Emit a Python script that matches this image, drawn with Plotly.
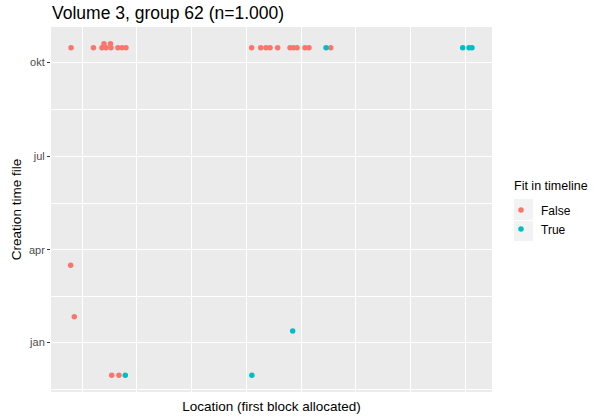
import plotly.graph_objects as go

# ---- data (location in arbitrary block units, creation date) ----
false_loc = [0.397, 0.602, 0.680, 0.698, 0.717, 0.758, 0.762, 0.826, 0.863, 0.899,
             2.048, 2.131, 2.179, 2.216, 2.286, 2.399, 2.431, 2.463, 2.536, 2.572, 2.771,
             0.394, 0.427, 0.769, 0.835]
false_date = ["2015-10-15", "2015-10-15", "2015-10-15", "2015-10-19", "2015-10-15",
              "2015-10-19", "2015-10-15", "2015-10-15", "2015-10-15", "2015-10-15",
              "2015-10-15", "2015-10-15", "2015-10-15", "2015-10-15", "2015-10-15",
              "2015-10-15", "2015-10-15", "2015-10-15", "2015-10-15", "2015-10-15",
              "2015-10-15",
              "2015-03-17", "2015-01-26", "2014-11-30", "2014-11-30"]
true_loc = [2.728, 3.977, 4.035, 4.062, 2.423, 0.893, 2.050]
true_date = ["2015-10-15", "2015-10-15", "2015-10-15", "2015-10-15",
             "2015-01-12", "2014-11-30", "2014-11-30"]

tick_dates = ["2015-01-01", "2015-04-01", "2015-07-01", "2015-10-01"]
tick_labels = ["jan", "apr", "jul", "okt"]
minor_dates = ["2014-11-16", "2015-02-15", "2015-05-16", "2015-08-16"]

FONT = "Liberation Sans, Arial, sans-serif"

fig = go.Figure()
fig.add_trace(go.Scatter(x=false_loc, y=false_date, mode="markers", name="False",
                         marker=dict(color="#F8766D", size=5.5)))
fig.add_trace(go.Scatter(x=true_loc, y=true_date, mode="markers", name="True",
                         marker=dict(color="#00BFC4", size=5.5)))

def px(v):
    return (v - 51) / 441.0

def py(v):
    return (392 - v) / 365.0

shapes = []
for (t, b) in [(199, 220), (221, 241)]:
    shapes.append(dict(type="rect", xref="paper", yref="paper",
                       x0=px(514), x1=px(533), y0=py(b), y1=py(t),
                       fillcolor="#F2F2F2", line=dict(width=0), layer="below"))

fig.update_layout(
    width=597, height=419,
    margin=dict(l=51, r=105, t=27, b=27, autoexpand=False),
    paper_bgcolor="white", plot_bgcolor="#EBEBEB",
    font=dict(family=FONT, color="black"),
    title=dict(text="Volume 3, group 62 (n=1.000)", xref="paper", x=px(52),
               xanchor="left", yref="container", y=1 - 13 / 419, yanchor="middle",
               font=dict(size=17.5, color="black", family=FONT)),
    xaxis=dict(range=[0.214, 4.245], showticklabels=False, ticks="",
               tickvals=[1, 2, 3, 4], showgrid=True, gridcolor="white", gridwidth=1.1,
               zeroline=False, showline=False, automargin=False,
               minor=dict(tickvals=[0.5, 1.5, 2.5, 3.5], showgrid=True,
                          gridcolor="white", gridwidth=0.8, ticks=""),
               title=dict(text="Location (first block allocated)", standoff=9,
                          font=dict(size=13.5, color="black"))),
    yaxis=dict(type="date", range=["2014-11-13 14:00", "2015-11-04 07:00"],
               tickmode="array", tickvals=tick_dates, ticktext=tick_labels,
               ticks="outside", ticklen=3, tickwidth=1, tickcolor="#333333",
               tickfont=dict(size=11, color="#4D4D4D"),
               showgrid=True, gridcolor="white", gridwidth=1.1,
               zeroline=False, showline=False, automargin=False,
               minor=dict(tickvals=minor_dates, showgrid=True,
                          gridcolor="white", gridwidth=0.8, ticks=""),
               title=dict(text="Creation time file", standoff=4,
                          font=dict(size=13.5, color="black"))),
    legend=dict(x=px(501), xanchor="left", y=py(195.5), yanchor="top",
                bgcolor="rgba(0,0,0,0)", font=dict(size=12, color="black"),
                itemsizing="trace", tracegroupgap=0),
    annotations=[dict(text="Fit in timeline", xref="paper", yref="paper",
                      x=px(512), y=py(186), xanchor="left", yanchor="middle",
                      showarrow=False, font=dict(size=12.5, color="black"))],
    shapes=shapes,
)

fig.write_html("out.html", config={"displayModeBar": False},
               post_script="document.body.style.margin='0';")
